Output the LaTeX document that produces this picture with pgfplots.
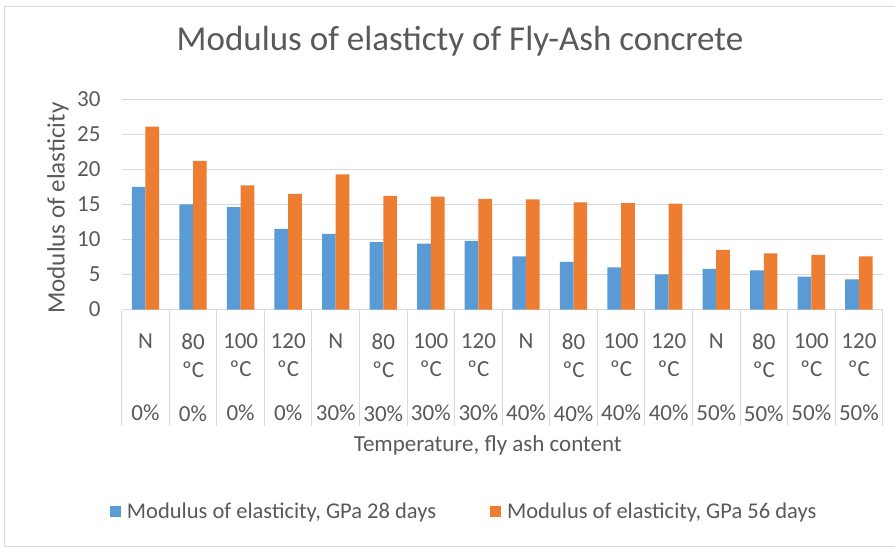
\documentclass[border=0pt]{standalone}
\usepackage{pgfplots}
\pgfplotsset{compat=1.18}
\usepackage{fontspec}
\setmainfont{Carlito}

\definecolor{xlblue}{HTML}{5B9BD5}
\definecolor{xlorange}{HTML}{ED7D31}
\definecolor{gridgray}{HTML}{D9D9D9}
\definecolor{txtgray}{HTML}{595959}

% one pt of the picture = one pixel of the reference (895 x 547)
\begin{document}
\begin{tikzpicture}[x=1pt,y=1pt]
    \useasboundingbox (0,0) rectangle (895,547);
    % chart frame
    \draw[gridgray, line width=1pt] (895,540) -- (4,540) -- (4,1) -- (895,1);

    \begin{axis}[
        at={(121.7pt,237.5pt)},
        anchor=south west,
        scale only axis,
        width=761pt,
        height=210.2pt,
        xmin=-0.5, xmax=15.5,
        ymin=0, ymax=30,
        ytick={0,5,...,30},
        xtick={0,...,15},
        xticklabels={
            N\\\mbox{}\\[15.7pt]0\%,
            80\\ºC\\[15.7pt]0\%,
            100\\ºC\\[15.7pt]0\%,
            120\\ºC\\[15.7pt]0\%,
            N\\\mbox{}\\[15.7pt]30\%,
            80\\ºC\\[15.7pt]30\%,
            100\\ºC\\[15.7pt]30\%,
            120\\ºC\\[15.7pt]30\%,
            N\\\mbox{}\\[15.7pt]40\%,
            80\\ºC\\[15.7pt]40\%,
            100\\ºC\\[15.7pt]40\%,
            120\\ºC\\[15.7pt]40\%,
            N\\\mbox{}\\[15.7pt]50\%,
            80\\ºC\\[15.7pt]50\%,
            100\\ºC\\[15.7pt]50\%,
            120\\ºC\\[15.7pt]50\%
        },
        axis y line*=left,
        y axis line style={draw=none},
        axis x line*=bottom,
        x axis line style={draw=gridgray, line width=1pt, -},
        ymajorgrids,
        grid style={draw=gridgray, line width=1pt},
        major tick length=0pt,
        /pgf/number format/assume math mode=true,
        yticklabel style={font=\fontsize{23}{27}\selectfont, text=txtgray,
            anchor=east, inner sep=0pt, xshift=-21pt},
        xticklabel style={font=\fontsize{23}{28}\selectfont, text=txtgray,
            align=center, anchor=north, inner sep=0pt, yshift=-24pt},
        ybar=0pt,
        bar width=13.7pt,
        clip=false,
        title={Modulus of elasticty of Fly-Ash concrete},
        title style={at={(axis description cs:0.4446,1.249)}, anchor=center,
            font=\fontsize{35}{40}\selectfont, text=txtgray},
        xlabel={Temperature, fly ash content},
        xlabel style={at={(axis description cs:0.481,-0.645)}, anchor=center,
            font=\fontsize{23}{27}\selectfont, text=txtgray},
        ylabel={Modulus of elasticity},
        ylabel style={at={(axis description cs:-0.0837,0.482)}, anchor=center,
            rotate=0, font=\fontsize{25}{29}\selectfont, text=txtgray},
        legend columns=2,
        legend style={at={(axis description cs:0.45,-0.963)}, anchor=center,
            draw=none, fill=none, font=\fontsize{22.5}{26}\selectfont,
            text=txtgray, column sep=4pt,
            /tikz/every even column/.append style={column sep=52pt}},
        legend image code/.code={
            \fill (0pt,-5.5pt) rectangle (11pt,5.5pt);
        },
    ]
        \addplot[draw=none, fill=xlblue] coordinates {
            (0,17.5) (1,15.0) (2,14.6) (3,11.5)
            (4,10.8) (5,9.6) (6,9.4) (7,9.8)
            (8,7.6) (9,6.8) (10,6.0) (11,5.0)
            (12,5.8) (13,5.6) (14,4.7) (15,4.3)
        };
        \addlegendentry{Modulus of elasticity, GPa 28 days}

        \addplot[draw=none, fill=xlorange] coordinates {
            (0,26.1) (1,21.2) (2,17.7) (3,16.5)
            (4,19.3) (5,16.2) (6,16.1) (7,15.8)
            (8,15.7) (9,15.3) (10,15.2) (11,15.1)
            (12,8.5) (13,8.0) (14,7.8) (15,7.6)
        };
        \addlegendentry{Modulus of elasticity, GPa 56 days}

        % category separators below the axis
        \pgfplotsinvokeforeach{-0.5,0.5,...,15.5}{
            \draw[gridgray, line width=1pt] (axis cs:#1,0) -- ++(0pt,-116pt);
        }
    \end{axis}
\end{tikzpicture}
\end{document}
